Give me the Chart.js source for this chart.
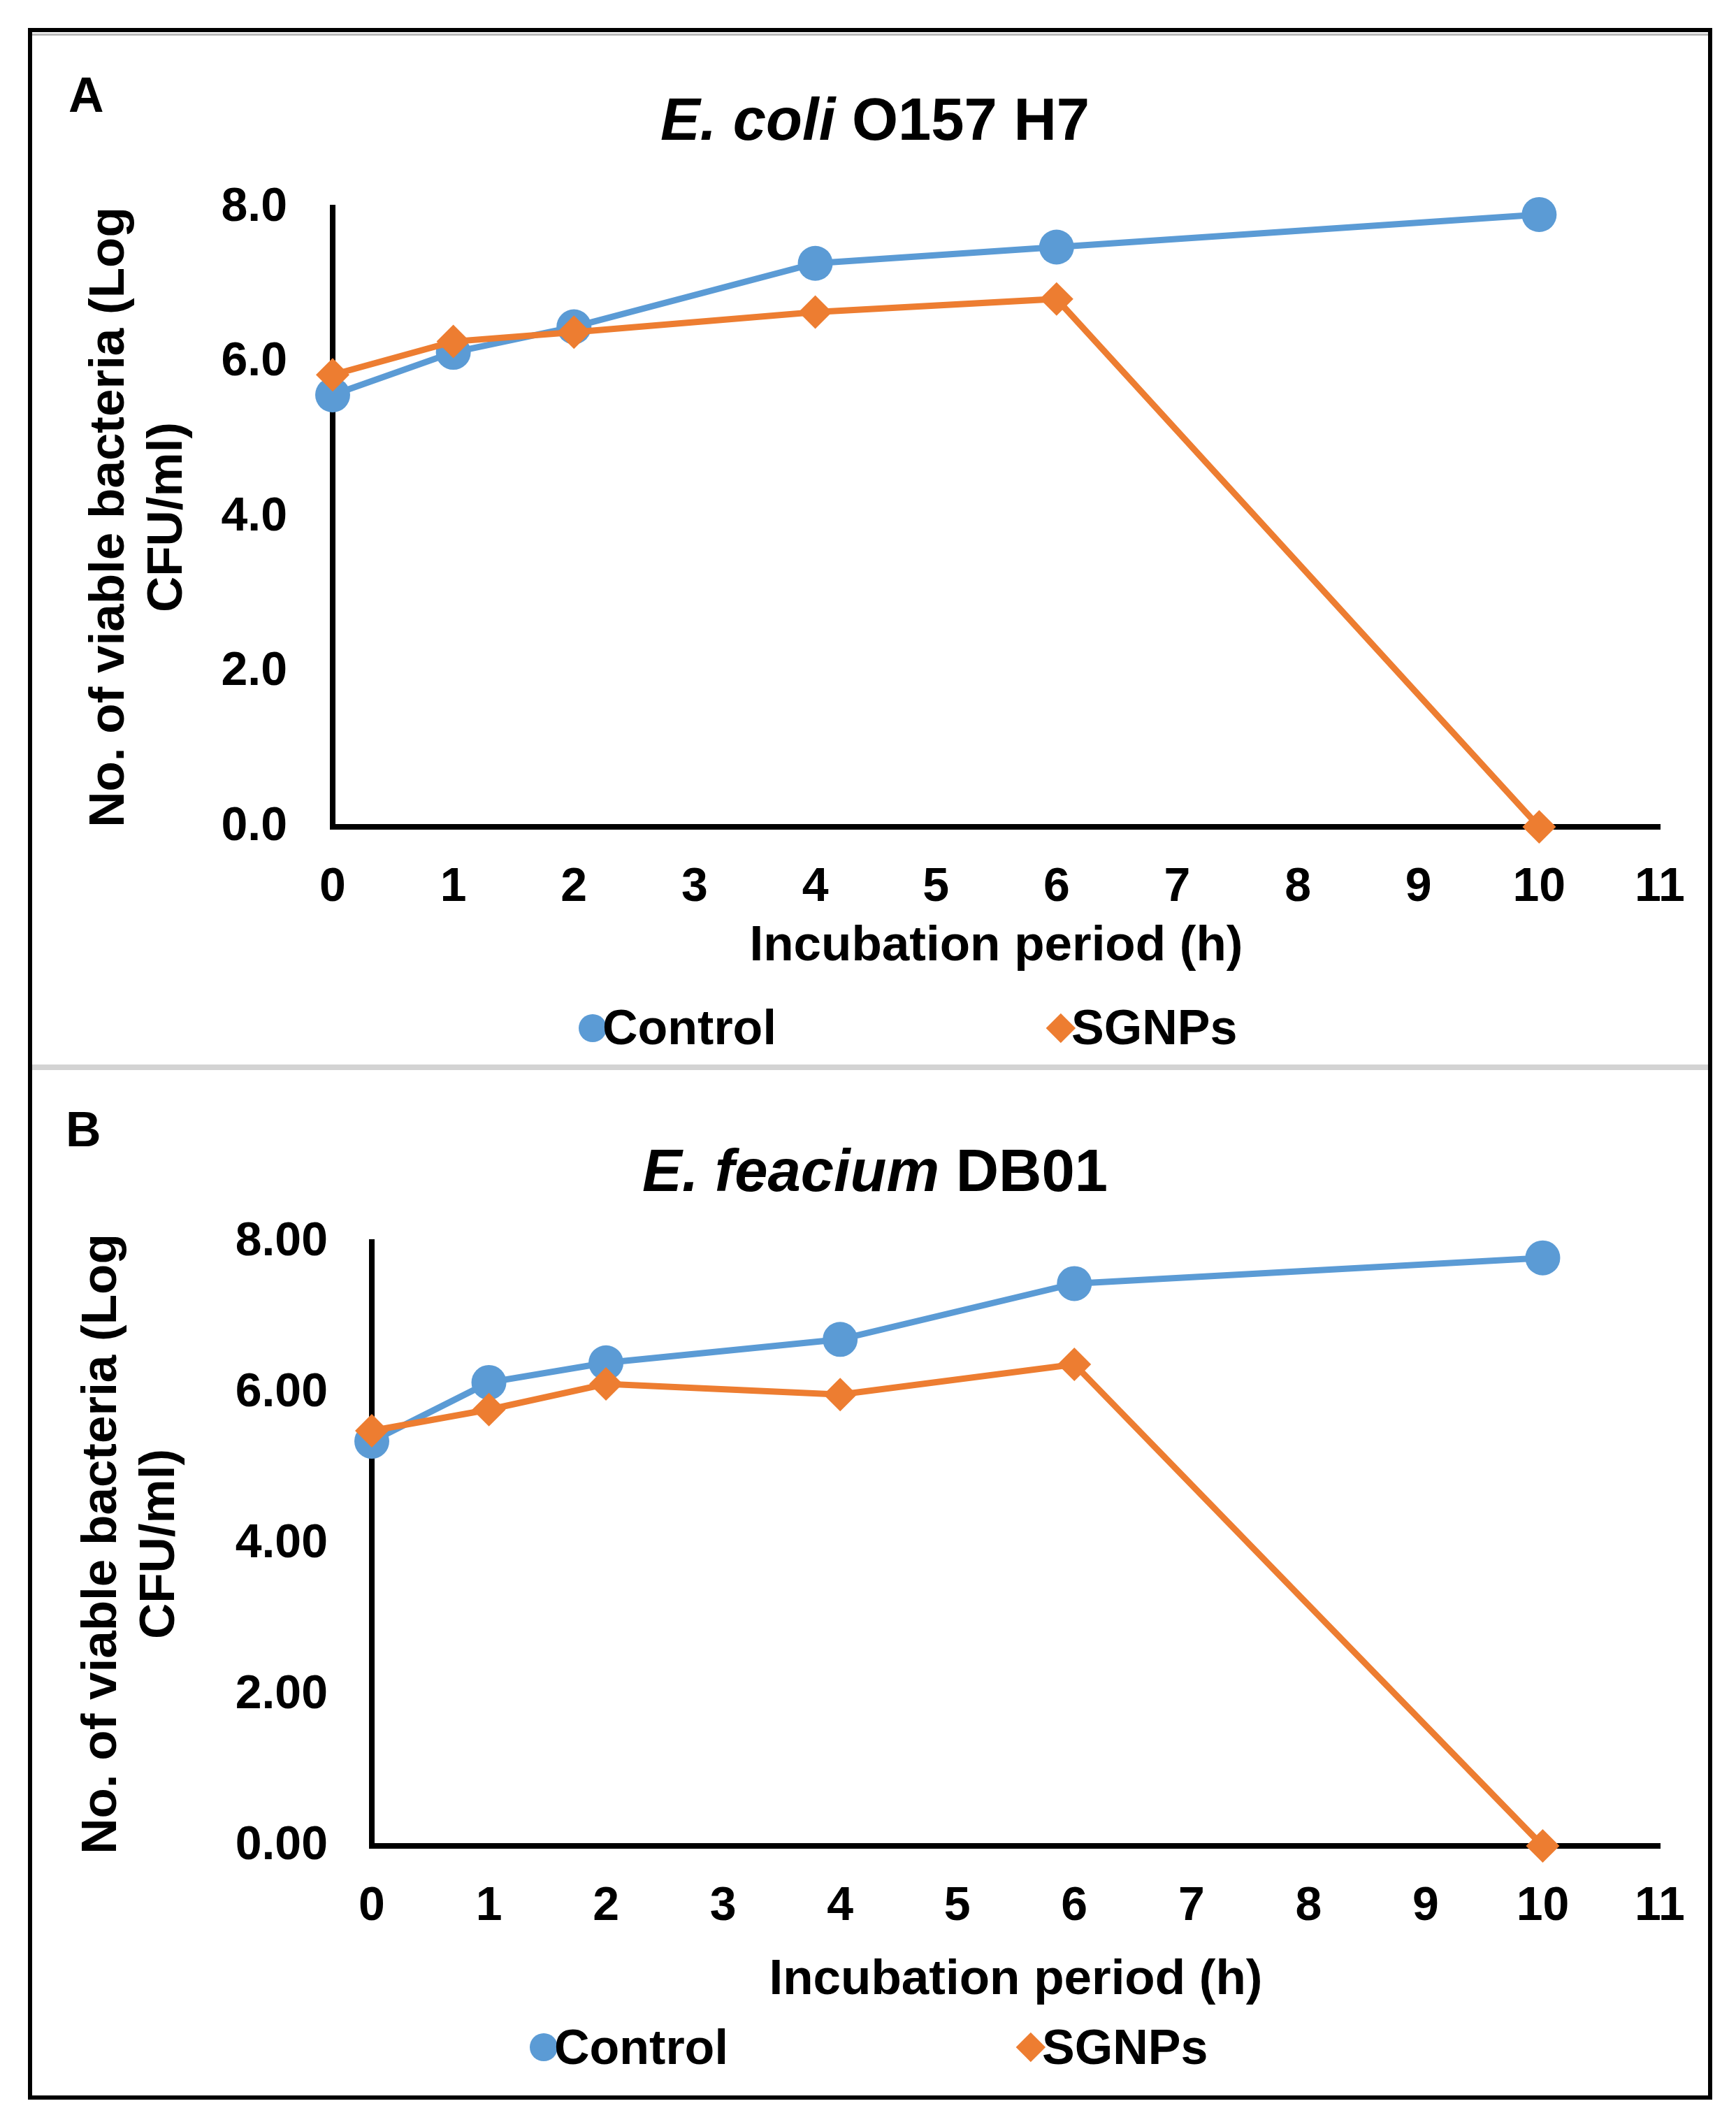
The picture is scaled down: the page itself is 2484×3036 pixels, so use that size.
<!DOCTYPE html>
<html>
<head>
<meta charset="utf-8">
<script src="https://cdn.jsdelivr.net/npm/chart.js@4.4.1/dist/chart.umd.min.js"></script>
<style>
html, body { margin: 0; padding: 0; background: #fff; }
#page { position: relative; width: 2484px; height: 3036px; overflow: hidden; background: #fff;
        font-family: "Liberation Sans", Arial, sans-serif; }
canvas { position: absolute; left: 0; }
.txt { position: absolute; font-weight: bold; color: #000; line-height: 1; white-space: nowrap; }
.title { font-size: 85px; transform: translateX(-50%); }
.panel { font-size: 70px; }
.leg { font-size: 70px; }
.mark { position: absolute; }
</style>
</head>
<body>
<div id="page">
  <canvas id="chartA" width="2484" height="1527" style="top:0;width:2484px;height:1527px"></canvas>
  <canvas id="chartB" width="2484" height="1509" style="top:1527px;width:2484px;height:1509px"></canvas>

  <div style="position:absolute;left:40px;top:40px;width:2410px;height:2964px;box-sizing:border-box;border:6px solid #000;"></div>
  <div style="position:absolute;left:46px;top:48px;width:2398px;height:3px;background:#b9b9b9;"></div>
  <div style="position:absolute;left:46px;top:1523px;width:2398px;height:8px;background:#d3d3d3;"></div>

  <div class="txt panel" style="left:98px;top:101px;">A</div>
  <div class="txt panel" style="left:94px;top:1581px;">B</div>
  <div class="txt title" style="left:1252px;top:128px;"><i>E. coli</i> O157 H7</div>
  <div class="txt title" style="left:1252px;top:1632px;"><i>E. feacium</i> DB01</div>

  <div id="legendA"></div>
  <div id="legendB"></div>
</div>

<script>
// ---------------- data ----------------
const hours = [0, 1, 2, 4, 6, 10];
const xTickLabels = ['0', '1', '2', '3', '4', '5', '6', '7', '8', '9', '10', '11'];
const yTickLabelsA = ['0.0', '2.0', '4.0', '6.0', '8.0'];
const yTickLabelsB = ['0.00', '2.00', '4.00', '6.00', '8.00'];
const seriesNames = ['Control', 'SGNPs'];
const controlA = [5.58, 6.13, 6.46, 7.28, 7.49, 7.91];
const sgnpsA   = [5.84, 6.27, 6.39, 6.65, 6.82, 0.00];
const controlB = [5.36, 6.14, 6.40, 6.71, 7.45, 7.79];
const sgnpsB   = [5.50, 5.78, 6.12, 5.98, 6.38, 0.00];
const yAxisTitle = ['No. of viable bacteria (Log', 'CFU/ml)'];
const xAxisTitle = 'Incubation period (h)';

// ---------------- styles ----------------
const BLUE = '#5B9BD5';
const ORANGE = '#ED7D31';
const FONT = '"Liberation Sans", Arial, sans-serif';

const htmlLegend = {
  id: 'htmlLegend',
  afterUpdate(chart, args, opts) {
    const box = document.getElementById(opts.containerID);
    box.innerHTML = '';
    chart.data.datasets.forEach((ds, i) => {
      const it = opts.items[i];
      const m = document.createElement('div');
      m.className = 'mark';
      if (ds.pointStyle === 'circle') {
        const r = 20;
        Object.assign(m.style, { left: (it.x - r) + 'px', top: (it.y - r) + 'px', width: 2 * r + 'px',
          height: 2 * r + 'px', borderRadius: '50%', background: ds.backgroundColor });
      } else {
        const r = 21, s = 2 * r / Math.SQRT2;
        Object.assign(m.style, { left: (it.x - s / 2) + 'px', top: (it.y - s / 2) + 'px', width: s + 'px',
          height: s + 'px', transform: 'rotate(45deg)', background: ds.backgroundColor });
      }
      box.appendChild(m);
      const t = document.createElement('div');
      t.className = 'txt leg';
      t.style.left = it.tx + 'px';
      t.style.top = (it.ty - 0.4885 * 70) + 'px';
      t.textContent = ds.label;
      box.appendChild(t);
    });
  }
};

function makeChart(id, control, sgnps, yLabels, L) {
  const toPts = arr => hours.map((h, i) => ({ x: h, y: arr[i] }));
  return new Chart(document.getElementById(id), {
    type: 'line',
    data: {
      datasets: [
        { label: seriesNames[0], data: toPts(control), borderColor: BLUE, backgroundColor: BLUE,
          borderWidth: 9, pointStyle: 'circle', pointRadius: 25, pointBorderWidth: 0,
          pointBackgroundColor: BLUE, tension: 0, clip: false, order: 1 },
        { label: seriesNames[1], data: toPts(sgnps), borderColor: ORANGE, backgroundColor: ORANGE,
          borderWidth: 9, pointStyle: 'rectRot', pointRadius: 24, pointBorderWidth: 0,
          pointBackgroundColor: ORANGE, tension: 0, clip: false, order: 0 }
      ]
    },
    options: {
      responsive: false,
      devicePixelRatio: 1,
      animation: false,
      events: [],
      layout: { padding: { top: L.padTop, right: 109, bottom: L.padBottom, left: 0 } },
      plugins: {
        legend: { display: false },
        title: { display: false },
        tooltip: { enabled: false },
        htmlLegend: { containerID: L.legendId, items: L.legendItems }
      },
      scales: {
        x: {
          type: 'linear', min: 0, max: 11,
          grid: { display: false, drawTicks: false },
          border: { display: true, color: '#000', width: 8 },
          ticks: { stepSize: 1, autoSkip: false, maxRotation: 0, padding: 53.5, color: '#000',
            font: { family: FONT, size: 68, weight: 'bold', lineHeight: 1 },
            callback: (v, i) => xTickLabels[i] },
          title: { display: true, text: xAxisTitle, color: '#000',
            font: { family: FONT, size: 71, weight: 'bold', lineHeight: 1.2 },
            padding: { top: L.xTitlePadTop, bottom: 0 } }
        },
        y: {
          type: 'linear', min: 0, max: 8,
          afterFit: s => { s.width = L.yWidth; },
          grid: { display: false, drawTicks: false },
          border: { display: true, color: '#000', width: 8 },
          ticks: { stepSize: 2, padding: L.yTickPad, color: '#000',
            font: { family: FONT, size: 68, weight: 'bold', lineHeight: 1 },
            callback: (v, i) => yLabels[i] },
          title: { display: true, text: yAxisTitle, color: '#000',
            font: { family: FONT, size: 71, weight: 'bold', lineHeight: 1.17 },
            padding: { top: L.yTitlePadTop, bottom: 0 } }
        }
      }
    },
    plugins: [htmlLegend]
  });
}

makeChart('chartA', controlA, sgnpsA, yTickLabelsA, {
  padTop: 297, padBottom: 130.4, yWidth: 476, yTickPad: 65, yTitlePadTop: 115.5, xTitlePadTop: -46.6,
  legendId: 'legendA',
  legendItems: [ { x: 848, y: 1471, tx: 862, ty: 1469 }, { x: 1518, y: 1471, tx: 1533, ty: 1469 } ]
});
makeChart('chartB', controlB, sgnpsB, yTickLabelsB, {
  padTop: 250, padBottom: 160.4, yWidth: 532, yTickPad: 63, yTitlePadTop: 104.5, xTitlePadTop: -25.6,
  legendId: 'legendB',
  legendItems: [ { x: 778, y: 2929, tx: 793, ty: 2928 }, { x: 1475, y: 2929, tx: 1491, ty: 2928 } ]
});
</script>
</body>
</html>
